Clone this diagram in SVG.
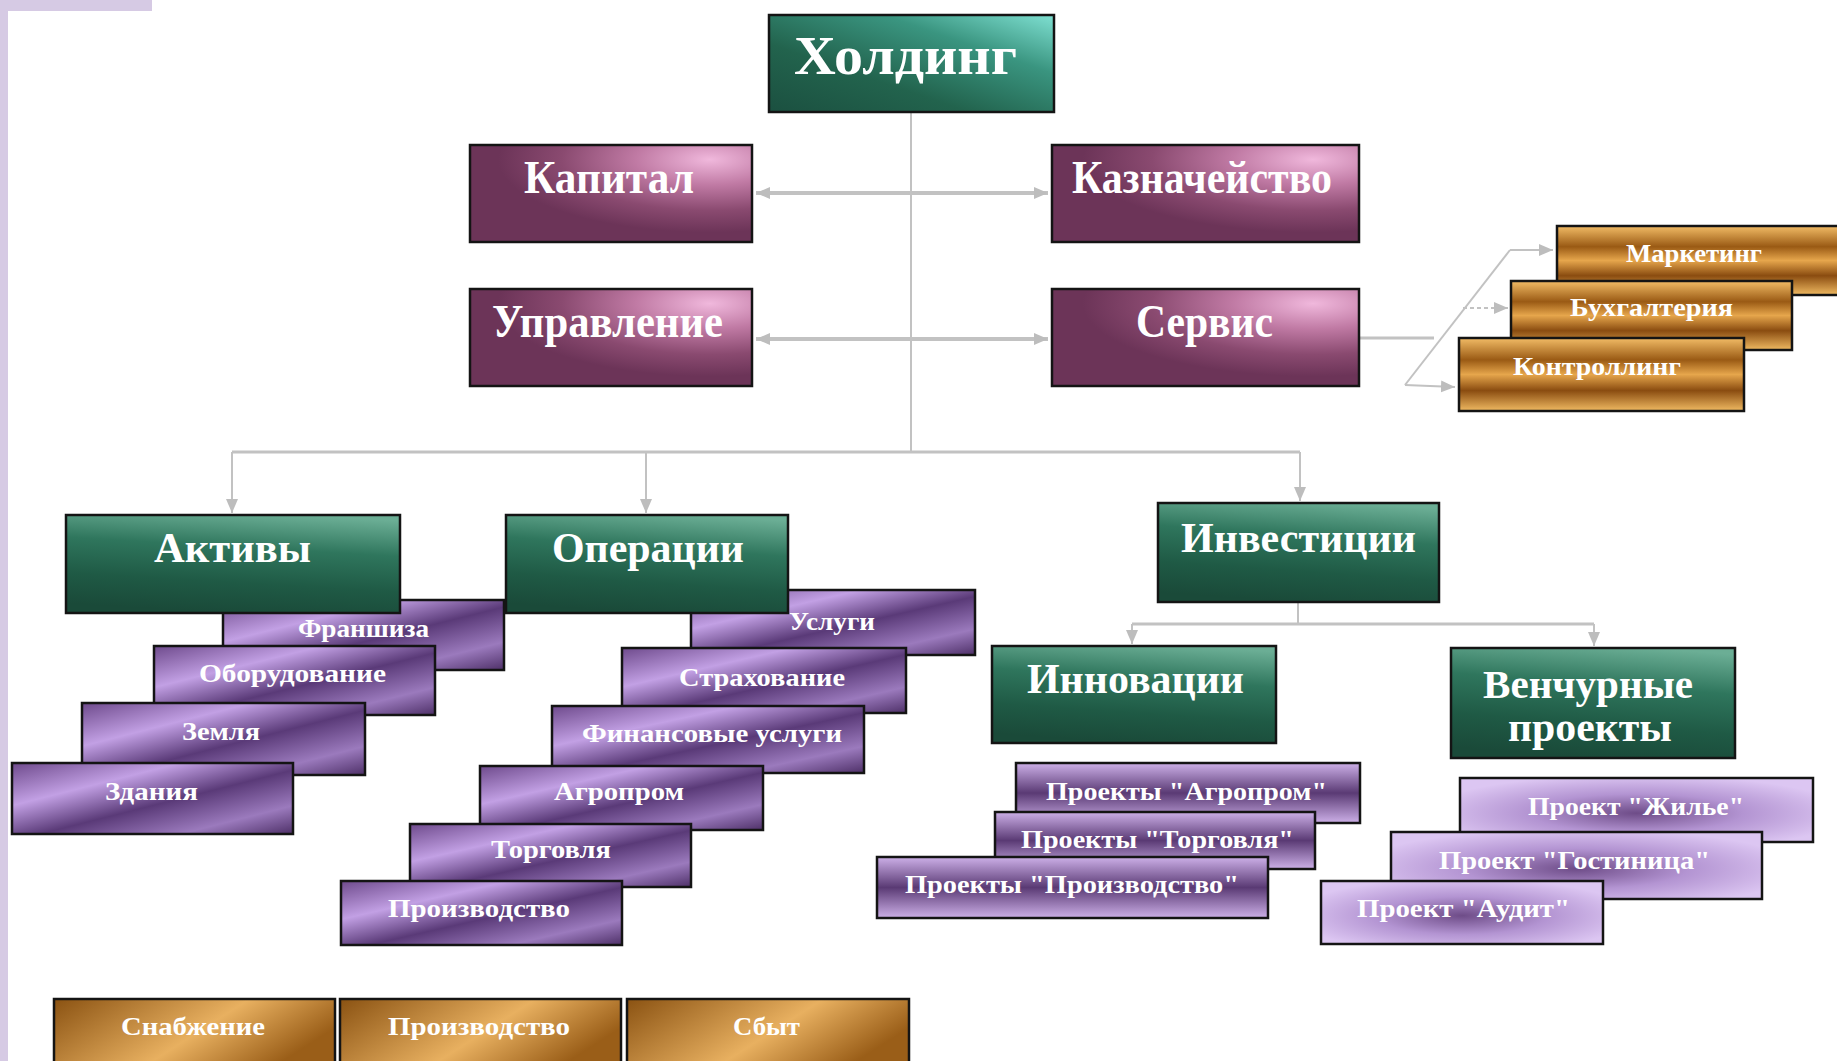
<svg xmlns="http://www.w3.org/2000/svg" width="1837" height="1061" viewBox="0 0 1837 1061">
<defs>
  <linearGradient id="gHold" x1="1" y1="0" x2="0" y2="1">
    <stop offset="0" stop-color="#7fe0d2"/>
    <stop offset="0.3" stop-color="#3a9580"/>
    <stop offset="0.65" stop-color="#22634d"/>
    <stop offset="1" stop-color="#1b5040"/>
  </linearGradient>
  <linearGradient id="gGreen" x1="0.7" y1="0" x2="0.5" y2="1">
    <stop offset="0" stop-color="#6bae95"/>
    <stop offset="0.35" stop-color="#2f765d"/>
    <stop offset="0.7" stop-color="#1f5a45"/>
    <stop offset="1" stop-color="#1a4a39"/>
  </linearGradient>
  <radialGradient id="gMauve" cx="0.85" cy="0.15" r="0.75">
    <stop offset="0" stop-color="#f0b8dc"/>
    <stop offset="0.35" stop-color="#c07aa4"/>
    <stop offset="0.7" stop-color="#8a4a70"/>
    <stop offset="1" stop-color="#6c3458"/>
  </radialGradient>
  <linearGradient id="gPurple" x1="0" y1="0" x2="1" y2="1">
    <stop offset="0" stop-color="#6e4a8c"/>
    <stop offset="0.3" stop-color="#c2a0e4"/>
    <stop offset="0.55" stop-color="#5a3a78"/>
    <stop offset="0.8" stop-color="#9b7abd"/>
    <stop offset="1" stop-color="#4e3068"/>
  </linearGradient>
  <linearGradient id="gBand" x1="0" y1="0" x2="0" y2="1">
    <stop offset="0" stop-color="#cdb0e8"/>
    <stop offset="0.5" stop-color="#5a3a74"/>
    <stop offset="1" stop-color="#cdb0e8"/>
  </linearGradient>
  <radialGradient id="gLav" cx="0.5" cy="0.55" r="0.6">
    <stop offset="0" stop-color="#6e4c88"/>
    <stop offset="0.5" stop-color="#b394d2"/>
    <stop offset="1" stop-color="#dcc6f2"/>
  </radialGradient>
  <linearGradient id="gGoldV" x1="0" y1="0" x2="0" y2="1">
    <stop offset="0" stop-color="#f2bc66"/>
    <stop offset="0.3" stop-color="#9a5a14"/>
    <stop offset="0.5" stop-color="#e6a64c"/>
    <stop offset="0.72" stop-color="#8a4c10"/>
    <stop offset="1" stop-color="#f0ba62"/>
  </linearGradient>
  <linearGradient id="gGoldH" x1="0" y1="0" x2="1" y2="0.4">
    <stop offset="0" stop-color="#8a5212"/>
    <stop offset="0.6" stop-color="#e8b060"/>
    <stop offset="1" stop-color="#9a5e18"/>
  </linearGradient>
  <marker id="arr" markerUnits="userSpaceOnUse" markerWidth="16" markerHeight="16" refX="14" refY="8" orient="auto">
    <path d="M0,2 L14,8 L0,14 Z" fill="#bdbdbd"/>
  </marker>
  <marker id="arrS" markerUnits="userSpaceOnUse" markerWidth="16" markerHeight="16" refX="2" refY="8" orient="auto">
    <path d="M16,2 L2,8 L16,14 Z" fill="#bdbdbd"/>
  </marker>
  <style>
    .box { stroke: #141414; stroke-width: 2.5; }
    .green { fill: url(#gGreen); }
    .mauve { fill: url(#gMauve); }
    .purple { fill: url(#gPurple); }
    .band { fill: url(#gBand); }
    .lav { fill: url(#gLav); }
    .goldv { fill: url(#gGoldV); }
    .goldh { fill: url(#gGoldH); }
    .con { stroke: #c2c2c2; fill: none; }
    .big { font-family: "Liberation Serif", "DejaVu Serif", serif; font-weight: bold; fill: #ffffff; }
    .small { font-family: "Liberation Serif", "DejaVu Serif", serif; font-weight: bold; fill: #ffffff; font-size: 25px; }
  </style>
</defs>
<rect width="1837" height="1061" fill="#ffffff"/>
<rect x="0" y="0" width="8" height="1061" fill="#d6cae4"/>
<rect x="0" y="0" width="152" height="11" fill="#d6cae4"/>

<g id="connectors">
  <line class="con" stroke-width="2" x1="911" y1="112" x2="911" y2="452"/>
  <line class="con" stroke-width="4" x1="756" y1="193" x2="1048" y2="193" marker-start="url(#arrS)" marker-end="url(#arr)"/>
  <line class="con" stroke-width="4" x1="756" y1="339" x2="1048" y2="339" marker-start="url(#arrS)" marker-end="url(#arr)"/>
  <line class="con" stroke-width="3" x1="232" y1="452" x2="1300" y2="452"/>
  <line class="con" stroke-width="2" x1="232" y1="452" x2="232" y2="513" marker-end="url(#arr)"/>
  <line class="con" stroke-width="2" x1="646" y1="452" x2="646" y2="513" marker-end="url(#arr)"/>
  <line class="con" stroke-width="2" x1="1300" y1="452" x2="1300" y2="501" marker-end="url(#arr)"/>
  <line class="con" stroke-width="2" x1="1298" y1="602" x2="1298" y2="624"/>
  <line class="con" stroke-width="3" x1="1132" y1="624" x2="1594" y2="624"/>
  <line class="con" stroke-width="2" x1="1132" y1="624" x2="1132" y2="644" marker-end="url(#arr)"/>
  <line class="con" stroke-width="2" x1="1594" y1="624" x2="1594" y2="646" marker-end="url(#arr)"/>
  <line class="con" stroke-width="3" x1="1359" y1="338" x2="1434" y2="338"/>
  <line class="con" stroke-width="2" x1="1405" y1="385" x2="1510" y2="250"/>
  <line class="con" stroke-width="2" x1="1510" y1="250" x2="1553" y2="250" marker-end="url(#arr)"/>
  <line class="con" stroke-width="2" stroke-dasharray="4 3" x1="1463" y1="308" x2="1508" y2="308" marker-end="url(#arr)"/>
  <line class="con" stroke-width="2" x1="1405" y1="385" x2="1455" y2="387" marker-end="url(#arr)"/>
</g>

<g id="holding"><rect class="box" x="769" y="15" width="285" height="97" fill="url(#gHold)"/><text class="big" x="794" y="74" font-size="54" textLength="223" lengthAdjust="spacingAndGlyphs">Холдинг</text></g>
<g id="kapital"><rect class="box mauve" x="470" y="145" width="282" height="97"/><text class="big" x="524" y="193" font-size="46" textLength="170" lengthAdjust="spacingAndGlyphs">Капитал</text></g>
<g id="kaznacheystvo"><rect class="box mauve" x="1052" y="145" width="307" height="97"/><text class="big" x="1072" y="193" font-size="46" textLength="260" lengthAdjust="spacingAndGlyphs">Казначейство</text></g>
<g id="upravlenie"><rect class="box mauve" x="470" y="289" width="282" height="97"/><text class="big" x="492" y="337" font-size="46" textLength="231" lengthAdjust="spacingAndGlyphs">Управление</text></g>
<g id="servis"><rect class="box mauve" x="1052" y="289" width="307" height="97"/><text class="big" x="1136" y="337" font-size="46" textLength="137" lengthAdjust="spacingAndGlyphs">Сервис</text></g>

<g id="marketing"><rect class="box goldv" x="1557" y="226" width="290" height="69"/><text class="small" x="1626" y="262" textLength="136" lengthAdjust="spacingAndGlyphs">Маркетинг</text></g>
<g id="buhgalteriya"><rect class="box goldv" x="1511" y="281" width="281" height="69"/><text class="small" x="1570" y="316" textLength="163" lengthAdjust="spacingAndGlyphs">Бухгалтерия</text></g>
<g id="kontrolling"><rect class="box goldv" x="1459" y="338" width="285" height="73"/><text class="small" x="1513" y="375" textLength="168" lengthAdjust="spacingAndGlyphs">Контроллинг</text></g>

<g id="franshiza"><rect class="box purple" x="223" y="600" width="281" height="70"/><text class="small" x="298" y="637" textLength="131" lengthAdjust="spacingAndGlyphs">Франшиза</text></g>
<g id="aktivy"><rect class="box green" x="66" y="515" width="334" height="98"/><text class="big" x="154" y="562" font-size="43" textLength="157" lengthAdjust="spacingAndGlyphs">Активы</text></g>
<g id="oborudovanie"><rect class="box purple" x="154" y="646" width="281" height="69"/><text class="small" x="199" y="682" textLength="187" lengthAdjust="spacingAndGlyphs">Оборудование</text></g>
<g id="zemlya"><rect class="box purple" x="82" y="703" width="283" height="72"/><text class="small" x="182" y="740" textLength="78" lengthAdjust="spacingAndGlyphs">Земля</text></g>
<g id="zdaniya"><rect class="box purple" x="12" y="763" width="281" height="71"/><text class="small" x="105" y="800" textLength="93" lengthAdjust="spacingAndGlyphs">Здания</text></g>

<g id="uslugi"><rect class="box purple" x="691" y="590" width="284" height="65"/><text class="small" x="789" y="630" textLength="86" lengthAdjust="spacingAndGlyphs">Услуги</text></g>
<g id="operacii"><rect class="box green" x="506" y="515" width="282" height="98"/><text class="big" x="552" y="562" font-size="43" textLength="192" lengthAdjust="spacingAndGlyphs">Операции</text></g>
<g id="strahovanie"><rect class="box purple" x="622" y="648" width="284" height="65"/><text class="small" x="679" y="686" textLength="166" lengthAdjust="spacingAndGlyphs">Страхование</text></g>
<g id="finansovye"><rect class="box purple" x="552" y="706" width="312" height="67"/><text class="small" x="582" y="742" textLength="260" lengthAdjust="spacingAndGlyphs">Финансовые услуги</text></g>
<g id="agroprom"><rect class="box purple" x="480" y="766" width="283" height="64"/><text class="small" x="554" y="800" textLength="130" lengthAdjust="spacingAndGlyphs">Агропром</text></g>
<g id="torgovlya"><rect class="box purple" x="410" y="824" width="281" height="63"/><text class="small" x="491" y="858" textLength="120" lengthAdjust="spacingAndGlyphs">Торговля</text></g>
<g id="proizvodstvo"><rect class="box purple" x="341" y="881" width="281" height="64"/><text class="small" x="388" y="917" textLength="182" lengthAdjust="spacingAndGlyphs">Производство</text></g>

<g id="investicii"><rect class="box green" x="1158" y="503" width="281" height="99"/><text class="big" x="1181" y="552" font-size="43" textLength="235" lengthAdjust="spacingAndGlyphs">Инвестиции</text></g>
<g id="innovacii"><rect class="box green" x="992" y="646" width="284" height="97"/><text class="big" x="1027" y="693" font-size="43" textLength="217" lengthAdjust="spacingAndGlyphs">Инновации</text></g>
<g id="venchurnye"><rect class="box green" x="1451" y="648" width="284" height="110"/><text class="big" font-size="39"><tspan x="1483" y="698" textLength="210" lengthAdjust="spacingAndGlyphs">Венчурные</tspan><tspan x="1508" y="741" textLength="164" lengthAdjust="spacingAndGlyphs">проекты</tspan></text></g>

<g id="pr-agroprom"><rect class="box band" x="1016" y="763" width="344" height="60"/><text class="small" x="1046" y="800" textLength="281" lengthAdjust="spacingAndGlyphs">Проекты "Агропром"</text></g>
<g id="pr-torgovlya"><rect class="box band" x="995" y="812" width="320" height="57"/><text class="small" x="1021" y="848" textLength="273" lengthAdjust="spacingAndGlyphs">Проекты "Торговля"</text></g>
<g id="pr-proizvodstvo"><rect class="box band" x="877" y="857" width="391" height="61"/><text class="small" x="905" y="893" textLength="334" lengthAdjust="spacingAndGlyphs">Проекты "Производство"</text></g>

<g id="pr-zhilye"><rect class="box lav" x="1460" y="778" width="353" height="64"/><text class="small" x="1528" y="815" textLength="216" lengthAdjust="spacingAndGlyphs">Проект "Жилье"</text></g>
<g id="pr-gostinica"><rect class="box lav" x="1391" y="832" width="371" height="67"/><text class="small" x="1439" y="869" textLength="271" lengthAdjust="spacingAndGlyphs">Проект "Гостиница"</text></g>
<g id="pr-audit"><rect class="box lav" x="1321" y="881" width="282" height="63"/><text class="small" x="1357" y="917" textLength="213" lengthAdjust="spacingAndGlyphs">Проект "Аудит"</text></g>

<g id="snabzhenie"><rect class="box goldh" x="54" y="999" width="281" height="72"/><text class="small" x="121" y="1035" textLength="144" lengthAdjust="spacingAndGlyphs">Снабжение</text></g>
<g id="proizvodstvo-2"><rect class="box goldh" x="340" y="999" width="281" height="72"/><text class="small" x="388" y="1035" textLength="182" lengthAdjust="spacingAndGlyphs">Производство</text></g>
<g id="sbyt"><rect class="box goldh" x="627" y="999" width="282" height="72"/><text class="small" x="733" y="1035" textLength="67" lengthAdjust="spacingAndGlyphs">Сбыт</text></g>
</svg>
